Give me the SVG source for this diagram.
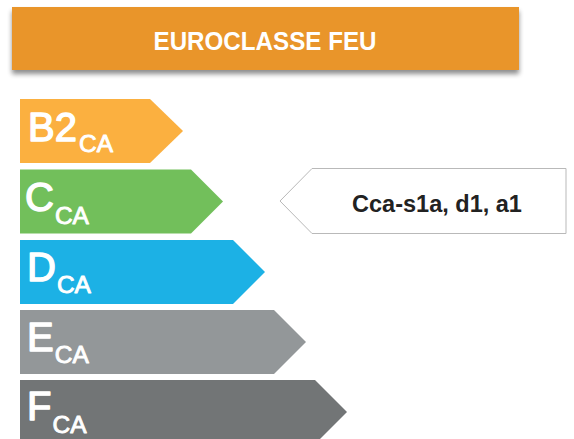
<svg xmlns="http://www.w3.org/2000/svg" width="574" height="439" viewBox="0 0 574 439">
<defs>
<filter id="sh" x="-5%" y="-20%" width="110%" height="150%">
<feGaussianBlur in="SourceAlpha" stdDeviation="2.5"/>
<feOffset dx="0" dy="4" result="b"/>
<feComponentTransfer><feFuncA type="linear" slope="0.45"/></feComponentTransfer>
<feMerge><feMergeNode/><feMergeNode in="SourceGraphic"/></feMerge>
</filter>
</defs>
<style>
.big{font-family:"Liberation Sans",Arial,sans-serif;font-size:40px;fill:#fff;stroke:#fff;stroke-width:1.4;stroke-linejoin:round}
.sub{font-family:"Liberation Sans",Arial,sans-serif;font-size:24.5px;fill:#fff;stroke:#fff;stroke-width:0.9;stroke-linejoin:round}
.hdr{font-family:"Liberation Sans",Arial,sans-serif;font-weight:bold;font-size:26.5px;fill:#fff}
.lbl{font-family:"Liberation Sans",Arial,sans-serif;font-weight:bold;font-size:23.5px;fill:#222}
</style>
<rect width="574" height="439" fill="#fff"/>
<g id="header">
<rect x="12" y="7" width="507" height="63" fill="#E9952A" filter="url(#sh)"/>
<text class="hdr" x="265" y="50" text-anchor="middle" textLength="223" lengthAdjust="spacingAndGlyphs">EUROCLASSE FEU</text>
</g>
<g id="bar-b2">
<polygon points="20,99 150,99 183,131 150,163 20,163" fill="#FBB040"/>
<text x="28" y="140.5"><tspan class="big">B2</tspan><tspan class="sub" dx="2" dy="11.5">CA</tspan></text>
</g>
<g id="bar-c">
<polygon points="20,169.5 191,169.5 223,201.5 191,233.5 20,233.5" fill="#72BF5B"/>
<text x="25" y="211"><tspan class="big">C</tspan><tspan class="sub" dx="1" dy="12.5">CA</tspan></text>
</g>
<g id="bar-d">
<polygon points="20,240 233,240 265,272 233,304 20,304" fill="#1CB1E5"/>
<text x="27" y="280.5"><tspan class="big">D</tspan><tspan class="sub" dx="1" dy="12.5">CA</tspan></text>
</g>
<g id="bar-e">
<polygon points="20,310 274,310 306,342 274,374 20,374" fill="#939799"/>
<text x="27" y="350.5"><tspan class="big">E</tspan><tspan class="sub" dx="1" dy="12.5">CA</tspan></text>
</g>
<g id="bar-f">
<polygon points="20,380 315,380 347,412 315,444 20,444" fill="#727576"/>
<text x="27" y="420"><tspan class="big">F</tspan><tspan class="sub" dx="1" dy="13">CA</tspan></text>
</g>
<g id="callout">
<polygon points="280,201 312,168.5 566,168.5 566,233.5 312,233.5" fill="#fff" stroke="#B9B9B9" stroke-width="1"/>
<text class="lbl" x="437" y="212" text-anchor="middle">Cca-s1a, d1, a1</text>
</g>
<g id="connectors"/>
</svg>
